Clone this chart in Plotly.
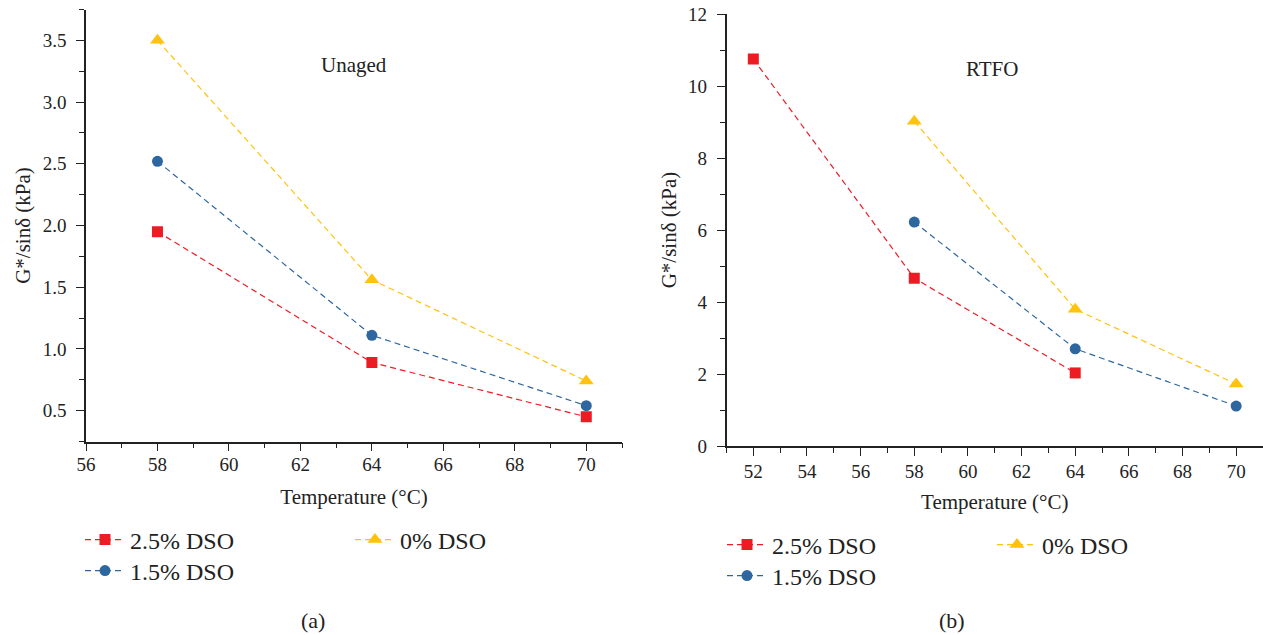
import plotly.graph_objects as go

# Temperatures (°C) and G*/sinδ (kPa) for each binder
temps_unaged = [58, 64, 70]
unaged_25 = [1.95, 0.89, 0.45]
unaged_15 = [2.52, 1.11, 0.54]
unaged_00 = [3.50, 1.56, 0.74]

temps_rtfo_25 = [52, 58, 64]
rtfo_25 = [10.75, 4.66, 2.03]
temps_rtfo = [58, 64, 70]
rtfo_15 = [6.22, 2.70, 1.11]
rtfo_00 = [9.02, 3.80, 1.72]

series_names = ["2.5% DSO", "0% DSO", "1.5% DSO"]

RED = "#ED1C24"
BLUE = "#2E67A0"
YELLOW = "#FFC20E"
INK = "#222222"
FONT = "Liberation Serif"
DASH = "6px,4px"

styles = {
    "2.5% DSO": dict(color=RED, symbol="square", size=11),
    "0% DSO": dict(color=YELLOW, symbol="triangle-up", size=13),
    "1.5% DSO": dict(color=BLUE, symbol="circle", size=11),
}

left_data = {
    "2.5% DSO": (temps_unaged, unaged_25),
    "0% DSO": (temps_unaged, unaged_00),
    "1.5% DSO": (temps_unaged, unaged_15),
}
right_data = {
    "2.5% DSO": (temps_rtfo_25, rtfo_25),
    "0% DSO": (temps_rtfo, rtfo_00),
    "1.5% DSO": (temps_rtfo, rtfo_15),
}

# one legend box per entry so the two-column layout is placed exactly (pixels)
legend_spots_left = {"2.5% DSO": (80, 540), "0% DSO": (350, 540), "1.5% DSO": (80, 571)}
legend_spots_right = {"2.5% DSO": (722, 545), "0% DSO": (992, 545), "1.5% DSO": (722, 576)}

W, H = 1263, 635
fig = go.Figure()
legends = {}
k = 1


def add_series(data, spots, xa, ya):
    global k
    for name in series_names:
        st = styles[name]
        x, y = data[name]
        lg = "legend" if k == 1 else f"legend{k}"
        fig.add_trace(go.Scatter(
            x=x, y=y, name=name, mode="lines+markers",
            line=dict(color=st["color"], width=1.2, dash=DASH),
            marker=dict(color=st["color"], symbol=st["symbol"], size=st["size"]),
            xaxis=xa, yaxis=ya, legend=lg,
        ))
        px, py = spots[name]
        legends[lg] = dict(
            x=px / W, y=1 - py / H, xanchor="left", yanchor="middle",
            orientation="h", itemwidth=40, borderwidth=0,
            bgcolor="rgba(0,0,0,0)",
            font=dict(family=FONT, size=24, color=INK),
        )
        k += 1


add_series(left_data, legend_spots_left, "x", "y")
add_series(right_data, legend_spots_right, "x2", "y2")


def axis(**kw):
    base = dict(
        showgrid=False, zeroline=False, showline=True, linecolor=INK,
        linewidth=1.5, ticks="outside", ticklen=8, tickwidth=1.2, tickcolor=INK,
        tickfont=dict(family=FONT, size=19, color=INK), automargin=False,
    )
    base.update(kw)
    return base


title_font = dict(family=FONT, size=21, color=INK)
minor_x = dict(dtick=1, ticks="outside", ticklen=5, tickcolor=INK)

fig.update_layout(
    template="none",
    width=W, height=H,
    margin=dict(l=0, r=0, t=0, b=0, pad=0, autoexpand=False),
    paper_bgcolor="white", plot_bgcolor="white",
    font=dict(family=FONT, size=19, color=INK),
    showlegend=True,
    xaxis=axis(domain=[86 / W, 622 / W], range=[56, 71], dtick=2, tick0=56, anchor="y",
               ticklabelstandoff=-3,
               title=dict(text="Temperature (°C)", standoff=15, font=title_font),
               minor=minor_x),
    yaxis=axis(domain=[1 - 441.5 / H, 1 - 9.5 / H], range=[0.25, 3.75], dtick=0.5, tick0=0.5,
               tickformat=".1f", anchor="x", ticklabelstandoff=6,
               title=dict(text="G*/sinδ (kPa)", standoff=6, font=title_font),
               minor=dict(dtick=0.25, ticks="outside", ticklen=5, tickcolor=INK)),
    xaxis2=axis(domain=[726.5 / W, 1.0], range=[51, 71], dtick=2, tick0=52, anchor="y2",
                ticklabelstandoff=-1,
                title=dict(text="Temperature (°C)", standoff=14, font=title_font),
                minor=minor_x),
    yaxis2=axis(domain=[1 - 446 / H, 1 - 14 / H], range=[0, 12], dtick=2, anchor="x2",
                ticklabelstandoff=6,
                title=dict(text="G*/sinδ (kPa)", standoff=6, font=title_font),
                minor=dict(dtick=1, ticks="outside", ticklen=5, tickcolor=INK)),
    annotations=[
        dict(text="Unaged", x=63.49, y=3.30, xref="x", yref="y", showarrow=False,
             xanchor="center", yanchor="middle",
             font=dict(family=FONT, size=21, color=INK)),
        dict(text="RTFO", x=60.88, y=10.46, xref="x2", yref="y2", showarrow=False,
             xanchor="center", yanchor="middle",
             font=dict(family=FONT, size=21, color=INK)),
        dict(text="(a)", x=313 / W, y=1 - 620 / H, xref="paper", yref="paper",
             showarrow=False, xanchor="center", yanchor="middle",
             font=dict(family=FONT, size=22, color=INK)),
        dict(text="(b)", x=952 / W, y=1 - 620 / H, xref="paper", yref="paper",
             showarrow=False, xanchor="center", yanchor="middle",
             font=dict(family=FONT, size=22, color=INK)),
    ],
    **legends,
)

fig.write_html("out.html")
